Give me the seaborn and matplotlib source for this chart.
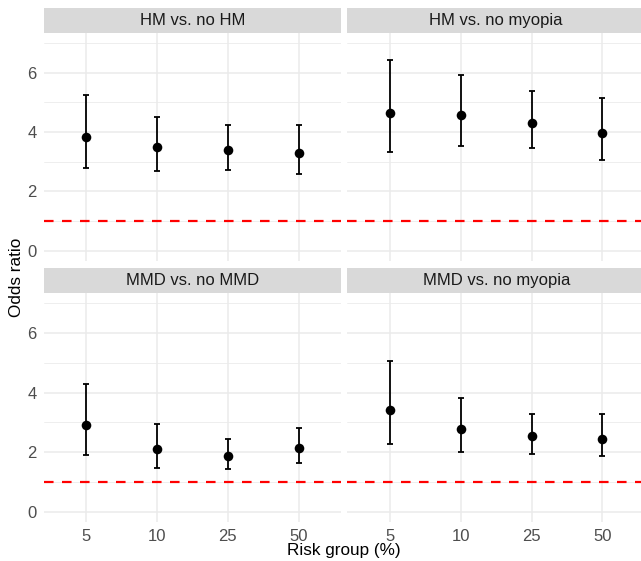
import numpy as np
import pandas as pd
import matplotlib
matplotlib.use("Agg")
import matplotlib.pyplot as plt
import seaborn as sns

# ---------------- data ----------------
risk_groups = ["5", "10", "25", "50"]
facets = ["HM vs. no HM", "HM vs. no myopia", "MMD vs. no MMD", "MMD vs. no myopia"]

or_hm_nohm = [3.84, 3.49, 3.39, 3.29]
lo_hm_nohm = [2.78, 2.70, 2.73, 2.58]
hi_hm_nohm = [5.26, 4.49, 4.22, 4.24]

or_hm_nomyo = [4.64, 4.58, 4.30, 3.95]
lo_hm_nomyo = [3.31, 3.54, 3.45, 3.06]
hi_hm_nomyo = [6.42, 5.91, 5.39, 5.15]

or_mmd_nommd = [2.92, 2.11, 1.89, 2.15]
lo_mmd_nommd = [1.92, 1.49, 1.44, 1.63]
hi_mmd_nommd = [4.30, 2.94, 2.46, 2.83]

or_mmd_nomyo = [3.43, 2.78, 2.54, 2.45]
lo_mmd_nomyo = [2.28, 2.00, 1.94, 1.87]
hi_mmd_nomyo = [5.06, 3.83, 3.30, 3.27]

y_ticks = [0, 2, 4, 6]
ref_line = 1

series = [
    (or_hm_nohm, lo_hm_nohm, hi_hm_nohm),
    (or_hm_nomyo, lo_hm_nomyo, hi_hm_nomyo),
    (or_mmd_nommd, lo_mmd_nommd, hi_mmd_nommd),
    (or_mmd_nomyo, lo_mmd_nomyo, hi_mmd_nomyo),
]
rows = []
for f, (o, l, h) in zip(facets, series):
    for r, oo, ll, hh in zip(risk_groups, o, l, h):
        rows.append({"facet": f, "risk": r, "or": oo, "lo": ll, "hi": hh})
df = pd.DataFrame(rows)

# ---------------- style ----------------
sns.set_theme(style="white")
plt.rcParams["font.family"] = ["Liberation Sans", "DejaVu Sans"]

W, H = 641, 561
fig = plt.figure(figsize=(W / 100, H / 100), dpi=100)


def rect(l, t, r, b):
    return [l / W, 1 - b / H, (r - l) / W, (b - t) / H]


cols_px = [(43.5, 341.0), (347.5, 645.0)]
rows_px = [(32.6, 261.0), (292.7, 522.4)]
strip_px = [(8.3, 32.6), (268.3, 292.7)]

grid_c = "#EBEBEB"
for i, f in enumerate(facets):
    r, c = divmod(i, 2)
    l, rr = cols_px[c]
    t, b = rows_px[r]
    ax = fig.add_axes(rect(l, t, rr, b))
    sub = df[df["facet"] == f]

    ax.set_facecolor("white")
    for s in ax.spines.values():
        s.set_visible(False)

    ax.errorbar(sub["risk"], sub["or"],
                yerr=[sub["or"] - sub["lo"], sub["hi"] - sub["or"]],
                fmt="none", ecolor="black", elinewidth=1.3, capsize=2.2,
                capthick=1.3, zorder=4)
    sns.scatterplot(data=sub, x="risk", y="or", ax=ax, color="black",
                    s=48, linewidth=0, zorder=5, legend=False)
    ax.axhline(ref_line, color="#FF0000", lw=1.6, ls=(0, (4.3, 3.8)), zorder=3)

    ax.set_xlim(-0.6, len(risk_groups) - 0.4)
    ax.set_ylim(-0.35, 7.35)
    ax.set_yticks(y_ticks)
    ax.set_yticks([1, 3, 5, 7], minor=True)
    ax.grid(True, which="major", color=grid_c, lw=1.1, zorder=0)
    ax.grid(True, which="minor", axis="y", color=grid_c, lw=0.6, zorder=0)
    ax.set_axisbelow(True)
    ax.set_xlabel("")
    ax.set_ylabel("")
    ax.tick_params(which="minor", length=0)
    ax.tick_params(axis="both", which="major", length=2.9, width=0.8,
                   color="#333333", labelsize=12, labelcolor="#4D4D4D")
    ax.tick_params(axis="y", pad=2.2)
    ax.tick_params(axis="x", pad=2.2)
    if c == 1:
        ax.tick_params(axis="y", left=False, labelleft=False)
    if r == 0:
        ax.tick_params(axis="x", bottom=False, labelbottom=False)

    st, sb = strip_px[r]
    sax = fig.add_axes(rect(l, st, rr, sb))
    sax.set_facecolor("#D9D9D9")
    sax.set_xticks([])
    sax.set_yticks([])
    for s in sax.spines.values():
        s.set_visible(False)
    sax.text(0.5, 0.5, f, ha="center", va="center", fontsize=12,
             color="#1A1A1A", transform=sax.transAxes)

fig.text(17 / W, 1 - 277 / H, "Odds ratio", rotation=90, ha="center",
         va="center", fontsize=12.3, color="black")
fig.text(344 / W, 1 - 551 / H, "Risk group (%)", ha="center", va="center",
         fontsize=12.3, color="black")

fig.savefig("out.png", dpi=100, facecolor="white")
